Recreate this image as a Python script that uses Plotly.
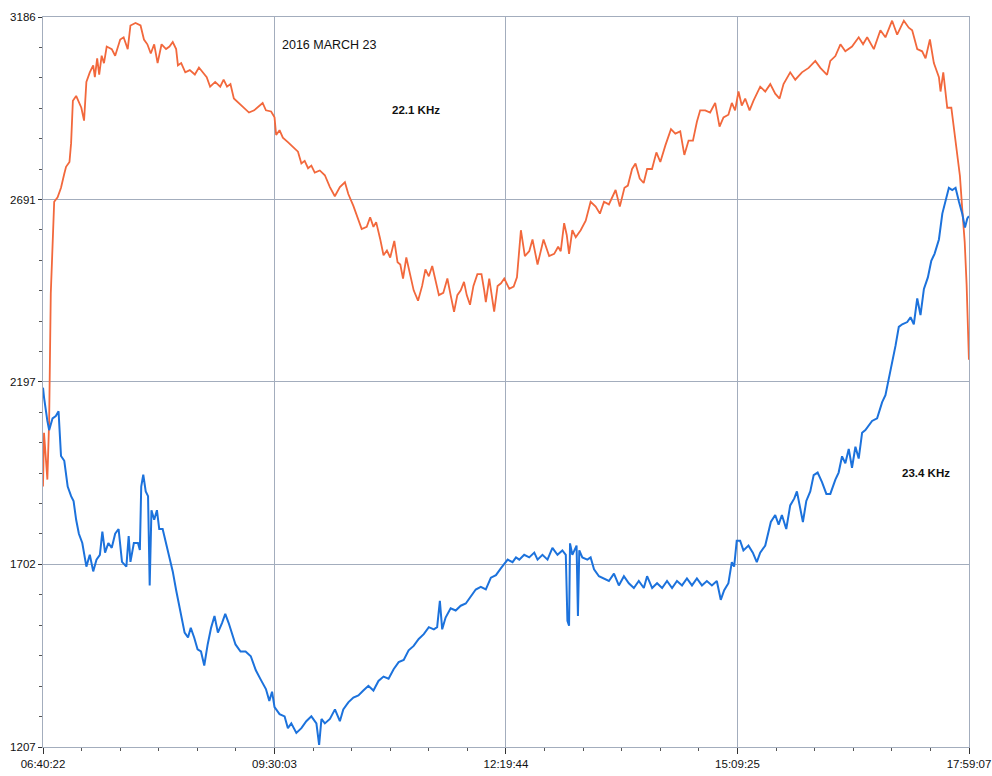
import plotly.graph_objects as go

# ---- tick labels / axes ----
time_labels = ["06:40:22", "09:30:03", "12:19:44", "15:09:25", "17:59:07"]
y_ticks = [1207, 1702, 2197, 2691, 3186]

# ---- 22.1 KHz (orange): minutes after 06:40:22, value ----
t_orange = [0, 0.75, 3.2, 4.5, 5.7, 7.0, 8.2, 10.7, 13.2, 15.6, 16.9, 19.4, 20.6, 21.9, 24.3, 28.1, 30.1, 31.8,
            34.3, 36.8, 38.0, 39.7, 41.2, 43.0, 44.7, 46.7, 50.4, 52.9, 56.6, 59.1, 62.1, 64.1, 67.8, 71.5, 74.0,
            76.5, 79.0, 81.5, 84.0, 86.9, 90.2, 92.7, 95.1, 97.6, 98.9, 101.3, 104.3, 107.6, 111.3, 114.3, 117.5,
            120.0, 122.5, 126.2, 129.9, 132.4, 134.9, 137.4, 139.9, 143.6, 147.3, 151.0, 154.8, 161.0, 163.4,
            167.2, 169.7,
            170.9, 173.4, 175.8, 179.5, 183.2, 186.9, 189.4, 191.8, 194.3, 196.7, 199.2, 202.9, 206.6, 210.3,
            213.9, 217.6, 221.3, 223.8, 227.5, 230.4, 233.6, 237.3, 239.8, 242.2, 244.2, 247.1, 249.6, 252.1,
            254.5, 257.5, 259.9, 261.9, 263.9, 266.3, 269.3, 271.7, 274.9, 277.9, 280.3, 282.8, 285.3, 287.7,
            290.2, 293.4, 296.4, 298.8, 301.3, 303.7, 306.2, 308.6, 310.6, 313.0, 315.5, 318.4, 321.4, 323.4,
            324.6, 327.1, 328.8, 330.7, 333.2, 335.7, 338.1,
            341.8, 345.0, 347.4, 350.3, 353.2, 356.4, 358.8, 362.5, 366.9, 371.0, 374.7, 377.6, 379.5, 382.0,
            383.9, 385.6, 388.0, 390.5, 394.1, 397.8, 401.4, 405.1, 408.2, 411.2, 414.8, 419.7, 422.8, 426.2,
            428.7, 431.8, 434.3, 437.4, 440.3, 442.8, 446.4, 449.6, 452.5, 456.2, 460.3, 463.5, 467.1, 470.1,
            473.2, 476.4, 479.3, 481.7, 485.4, 489.0, 492.7, 495.9, 498.8, 502.4, 504.9, 507.3,
            509.8, 512.2, 514.7, 517.9, 520.8, 525.7, 529.4, 533.1, 536.7, 539.9, 542.8, 547.7, 551.4, 556.3,
            561.2, 566.1, 569.8, 574.7, 577.1, 580.8, 584.5, 588.1, 593.0, 597.9, 601.1, 604.1, 609.0, 613.8,
            617.5, 622.4, 626.1, 631.0, 634.6, 637.1, 640.8, 644.4, 646.9, 650.1, 653.0, 656.7, 657.9, 659.9,
            662.8, 665.8, 668.2, 670.2, 672.1, 673.8, 675.6, 677.0, 678.7]
v_orange = [1913, 2059, 1932, 2091, 2436, 2589, 2685, 2697, 2723, 2761, 2780, 2793, 2844, 2959, 2972, 2940, 2905, 3010,
            3036, 3055, 3023, 3074, 3030, 3081, 3061, 3106, 3099, 3081, 3125, 3131, 3099, 3163, 3170, 3163, 3125,
            3112, 3087, 3112, 3061, 3112, 3099, 3106, 3118, 3099, 3055, 3061, 3036, 3042, 3030, 3049, 3036,
            3023, 2997, 3010, 2997, 3016, 2997, 3004, 2965, 2953, 2940, 2927, 2933, 2953, 2933,
            2930, 2914,
            2866, 2879, 2859, 2847, 2834, 2821, 2789, 2796, 2776, 2783, 2764, 2770, 2757, 2725,
            2700, 2725, 2738, 2706, 2674, 2643, 2611, 2617, 2643, 2617, 2630, 2585, 2540, 2553,
            2534, 2579, 2521, 2515, 2477, 2534, 2483, 2445, 2417, 2457, 2502, 2483, 2511, 2470,
            2432, 2438, 2477, 2432, 2387, 2432, 2445, 2468, 2432, 2406, 2457, 2489, 2489, 2445,
            2413, 2477, 2432, 2387, 2457, 2464, 2477,
            2449, 2455, 2480, 2608, 2538, 2551, 2583, 2515, 2583, 2538, 2544, 2563, 2551, 2627,
            2595, 2544, 2608, 2589, 2608, 2634, 2685, 2672, 2653, 2685, 2678, 2717, 2672, 2723,
            2729, 2774, 2789, 2748, 2736, 2774, 2774, 2819, 2793, 2838, 2882, 2870, 2876, 2812,
            2851, 2851, 2902, 2933, 2933, 2927, 2953, 2889, 2914, 2921, 2953, 2933,
            2984, 2946, 2965, 2933, 2959, 2997, 2984, 3004, 2978, 2965, 3004, 3036, 3016, 3036,
            3048, 3067, 3048, 3029, 3067, 3080, 3112, 3093, 3106, 3131, 3112, 3131, 3099, 3150,
            3131, 3176, 3138, 3176, 3157, 3150, 3099, 3093, 3074, 3125, 3061, 3023, 2984, 3036,
            2940, 2940, 2870, 2806, 2755, 2665, 2576, 2461, 2257]

# ---- 23.4 KHz (blue): minutes after 06:40:22, value ----
t_blue = [0, 0.75, 3.2, 4.5, 7.0, 9.4, 11.4, 13.2, 15.6, 18.1, 20.6, 22.4, 24.3, 26.3, 28.8, 31.8, 34.3, 36.8,
          39.2, 41.7, 43.5, 45.5, 47.9, 50.4, 52.9, 55.4, 57.9, 61.1, 62.8, 64.1, 66.6, 69.6, 71.0, 72.0, 73.5,
          75.3, 77.0, 78.2, 79.5, 81.5, 83.5, 85.2, 87.7, 90.2, 92.7, 95.1, 97.6, 98.9, 101.3, 103.8, 106.3,
          108.3, 110.8, 113.3, 115.8, 118.2, 120.7, 123.2, 125.7, 128.2, 131.2, 133.6, 136.1, 138.6, 141.1,
          144.8, 148.5, 152.3, 156.0, 159.7, 163.4, 165.9, 167.9, 169.7,
          173.4, 177.1, 179.5, 182.0, 185.7, 189.4, 193.0, 196.7, 200.4, 202.4, 204.1, 206.6, 210.3, 214.0,
          217.6, 220.1, 223.8, 227.5, 231.2, 234.8, 238.5, 242.2, 245.9, 249.6, 253.3, 257.0, 260.7, 264.4,
          268.0, 271.7, 275.4, 279.1, 282.8, 286.5, 288.9, 290.9, 292.6, 295.1, 298.8, 302.5, 306.2, 309.9,
          313.5, 317.2, 320.9, 324.6, 328.3, 332.0, 335.7, 339.4,
          340.6, 344.2, 346.7, 349.1, 352.7, 356.4, 360.1, 362.5, 366.1, 369.8, 373.4, 377.1, 380.7, 383.2,
          384.4, 385.6, 386.3, 388.0, 389.7, 391.1, 392.1, 393.1, 395.3, 399.0, 401.4, 403.9, 407.5, 411.2,
          414.8, 418.5, 422.1, 425.8, 429.4, 433.1, 436.7, 440.4, 442.8, 446.5, 450.1, 453.8, 457.4, 461.1,
          464.7, 468.4, 472.0, 475.7, 479.3, 483.0, 486.6, 490.3, 493.9, 496.8, 499.3, 502.4, 504.9, 506.6,
          508.5,
          511.0, 513.4, 517.1, 520.3, 523.2, 525.7, 529.4, 531.8, 533.5, 536.7, 539.2, 541.6, 544.8, 547.7,
          550.7, 552.6, 555.1, 557.0, 559.5, 562.4, 564.9, 567.8, 571.0, 574.2, 577.1, 580.8, 583.2, 585.7,
          588.1, 590.6, 593.0, 595.5, 597.9, 600.4, 602.8, 605.3, 607.7, 611.4, 615.1, 617.5, 620.0, 622.4,
          624.9, 627.3, 629.8, 633.5, 635.9, 638.3, 640.8, 643.2, 645.7, 648.6, 651.1, 653.5, 656.7, 659.2,
          661.6, 664.0, 666.5, 668.9, 671.4, 673.8, 675.8, 677.5, 678.7]
v_blue = [2181, 2155, 2091, 2066, 2098, 2104, 2117, 1996, 1983, 1913, 1887, 1874, 1823, 1785, 1760, 1696, 1728, 1683,
          1715, 1728, 1791, 1734, 1760, 1747, 1785, 1798, 1709, 1696, 1779, 1709, 1760, 1760, 1741, 1913, 1945,
          1900, 1887, 1645, 1849, 1823, 1849, 1798, 1798, 1760, 1721, 1683, 1632, 1607, 1555, 1517, 1504,
          1530, 1504, 1472, 1466, 1428, 1485, 1530, 1562, 1517, 1543, 1568, 1543, 1517, 1485,
          1466, 1466, 1453, 1415, 1389, 1364, 1332, 1357, 1315,
          1296, 1290, 1258, 1271, 1245, 1258, 1277, 1290, 1271, 1213, 1283, 1271, 1283, 1309,
          1277, 1309, 1328, 1341, 1347, 1360, 1373, 1360, 1386, 1398, 1392, 1418, 1437, 1443,
          1469, 1481, 1500, 1513, 1532, 1526, 1532, 1603, 1526, 1558, 1583, 1577, 1590, 1596,
          1615, 1634, 1641, 1634, 1666, 1673, 1692, 1711,
          1715, 1708, 1721, 1715, 1728, 1721, 1734, 1715, 1728, 1715, 1747, 1728, 1740, 1728,
          1549, 1536, 1759, 1728, 1740, 1753, 1562, 1740, 1721, 1715, 1721, 1689, 1670, 1664,
          1657, 1677, 1645, 1670, 1651, 1638, 1657, 1638, 1670, 1638, 1651, 1638, 1657, 1638,
          1657, 1645, 1664, 1645, 1664, 1645, 1657, 1645, 1657, 1606, 1632, 1651, 1708, 1696,
          1766,
          1766, 1740, 1753, 1734, 1708, 1734, 1753, 1791, 1817, 1836, 1810, 1836, 1798, 1862,
          1881, 1900, 1849, 1817, 1874, 1900, 1944, 1951, 1925, 1893, 1893, 1932, 1951, 1995,
          1976, 2015, 1964, 2021, 1989, 2059, 2066, 2078, 2091, 2098, 2142, 2161, 2206, 2244,
          2295, 2346, 2353, 2359, 2372, 2353, 2423, 2378, 2449, 2480, 2525, 2544, 2583, 2653,
          2685, 2723, 2717, 2723, 2685, 2653, 2615, 2640, 2646]


def to_minutes(label):
    h, m, s = (int(p) for p in label.split(":"))
    return h * 60 + m + s / 60


start = to_minutes(time_labels[0])
x_tickvals = [to_minutes(l) - start for l in time_labels]
x_step = x_tickvals[1] - x_tickvals[0]
x_minor = [i * x_step / 6 for i in range(0, 25) if i % 6 != 0]
y_minor = []
for a, b in zip(y_ticks[:-1], y_ticks[1:]):
    y_minor += [a + (b - a) * k / 6 for k in range(1, 6)]

ORANGE = "#F2683C"
BLUE = "#1C72DC"
GRID = "#a3adbd"

fig = go.Figure()
fig.add_trace(go.Scatter(x=t_orange, y=v_orange, mode="lines", line=dict(color=ORANGE, width=1.8),
                         name="22.1 KHz", showlegend=False))
fig.add_trace(go.Scatter(x=t_blue, y=v_blue, mode="lines", line=dict(color=BLUE, width=2),
                         name="23.4 KHz", showlegend=False))

font = "Liberation Sans, Arial, sans-serif"
fig.update_layout(
    width=992, height=776,
    margin=dict(l=43, r=23, t=17, b=29),
    paper_bgcolor="white", plot_bgcolor="white",
    font=dict(family=font, size=11.5, color="#111111"),
    xaxis=dict(range=[x_tickvals[0], x_tickvals[-1]], tickmode="array", tickvals=x_tickvals,
               ticktext=time_labels, showgrid=True, gridcolor=GRID, gridwidth=1, zeroline=False,
               showline=True, linecolor=GRID, linewidth=1, mirror=True, automargin=False,
               ticks="outside", ticklen=6, tickcolor="#333333", tickwidth=1,
               minor=dict(tickmode="array", tickvals=x_minor, ticks="outside", ticklen=3,
                          tickcolor="#555555", showgrid=False),
               tickfont=dict(size=11.5, family=font)),
    yaxis=dict(range=[y_ticks[0], y_ticks[-1]], tickmode="array", tickvals=y_ticks,
               ticktext=[str(v) for v in y_ticks], showgrid=True, gridcolor=GRID, gridwidth=1,
               zeroline=False, showline=True, linecolor=GRID, linewidth=1, mirror=True, automargin=False,
               ticks="outside", ticklen=4, tickcolor="#333333", tickwidth=1,
               minor=dict(tickmode="array", tickvals=y_minor, ticks="outside", ticklen=3,
                          tickcolor="#555555", showgrid=False),
               tickfont=dict(size=11.5, family=font)),
    annotations=[
        dict(x=209.9, y=3110, xref="x", yref="y", text="2016 MARCH 23", showarrow=False,
             font=dict(size=12.5, family=font, color="#111111"), xanchor="center", yanchor="middle"),
        dict(x=273.7, y=2934, xref="x", yref="y", text="<b>22.1 KHz</b>", showarrow=False,
             font=dict(size=11.5, family=font, color="#111111"), xanchor="center", yanchor="middle"),
        dict(x=647.2, y=1950, xref="x", yref="y", text="<b>23.4 KHz</b>", showarrow=False,
             font=dict(size=11.5, family=font, color="#111111"), xanchor="center", yanchor="middle"),
    ],
)

fig.write_html("out.html", config={"displayModeBar": False},
               post_script="document.body.style.margin='0';document.body.style.overflow='hidden';")
